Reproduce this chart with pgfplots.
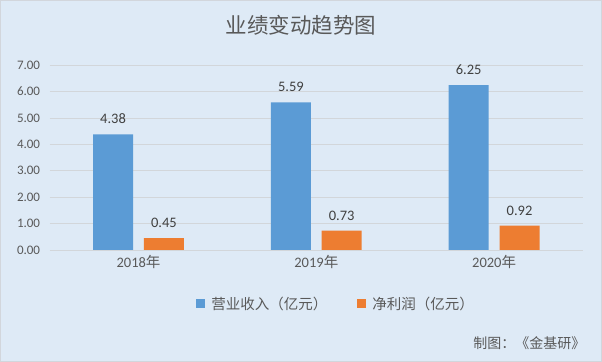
\documentclass[border=0pt]{standalone}
\usepackage{pgfplots}
\pgfplotsset{compat=1.18}
\usepackage{fontspec}
\setmainfont{Carlito}
\newfontfamily\cjk{Noto Sans CJK SC}
\definecolor{bg}{RGB}{222,234,246}
\definecolor{frame}{RGB}{210,214,220}
\definecolor{gridc}{RGB}{210,214,218}
\definecolor{txt}{RGB}{89,89,89}
\definecolor{vtxt}{RGB}{64,64,64}
\definecolor{cblue}{RGB}{91,155,213}
\definecolor{corange}{RGB}{237,125,49}
\begin{document}
\begin{tikzpicture}
\fill[bg, draw=frame, line width=1bp] (0.5bp,0.5bp) rectangle (601.5bp,361.5bp);
\node[font=\cjk\fontsize{21.5bp}{24bp}\selectfont, text=txt] at (301bp,337bp) {业绩变动趋势图};
\node[font=\cjk\fontsize{14bp}{16bp}\selectfont, text=txt, anchor=east] at (589bp,19bp) {制图：《金基研》};
\begin{axis}[
  at={(49.6bp,112bp)}, anchor=south west,
  scale only axis, width=533.4bp, height=184.8bp,
  xmin=-0.5, xmax=2.5, ymin=0, ymax=7,
  ybar, bar width=0.225,
  ytick={0,1,...,7},
  xtick={0,1,2},
  xticklabels={2018{\cjk 年},2019{\cjk 年},2020{\cjk 年}},
  ymajorgrids, grid style={draw=gridc, line width=0.8bp},
  axis line style={draw=none},
  major tick length=0pt,
  yticklabel={\pgfmathprintnumber[fixed,fixed zerofill,precision=2]{\tick}},
  yticklabel style={font=\fontsize{13bp}{15bp}\selectfont, text=txt, xshift=-6bp},
  xticklabel style={font=\fontsize{14.5bp}{16bp}\selectfont, text=txt, yshift=-2bp},
  /pgf/number format/assume math mode=true,
  nodes near coords={\pgfmathprintnumber[fixed,fixed zerofill,precision=2]{\pgfplotspointmeta}},
  every node near coord/.append style={font=\fontsize{14.5bp}{16bp}\selectfont, text=vtxt, yshift=7bp},
  legend style={at={(0.537,-0.29)}, anchor=center, draw=none, fill=none,
    legend columns=2, font=\cjk\fontsize{14.5bp}{16bp}\selectfont, text=txt,
    /tikz/every even column/.append style={column sep=28bp}},
  legend image code/.code={\fill[#1] (0bp,-4.5bp) rectangle (9bp,4.5bp); \path (13bp,0bp);},
  clip=false,
]
\addplot[fill=cblue, draw=none, bar shift=-0.143]
  coordinates {(0,4.38) (1,5.59) (2,6.25)};
\addlegendentry{营业收入（亿元）}
\addplot[fill=corange, draw=none, bar shift=0.143]
  coordinates {(0,0.45) (1,0.73) (2,0.92)};
\addlegendentry{净利润（亿元）}
\end{axis}
\end{tikzpicture}
\end{document}
